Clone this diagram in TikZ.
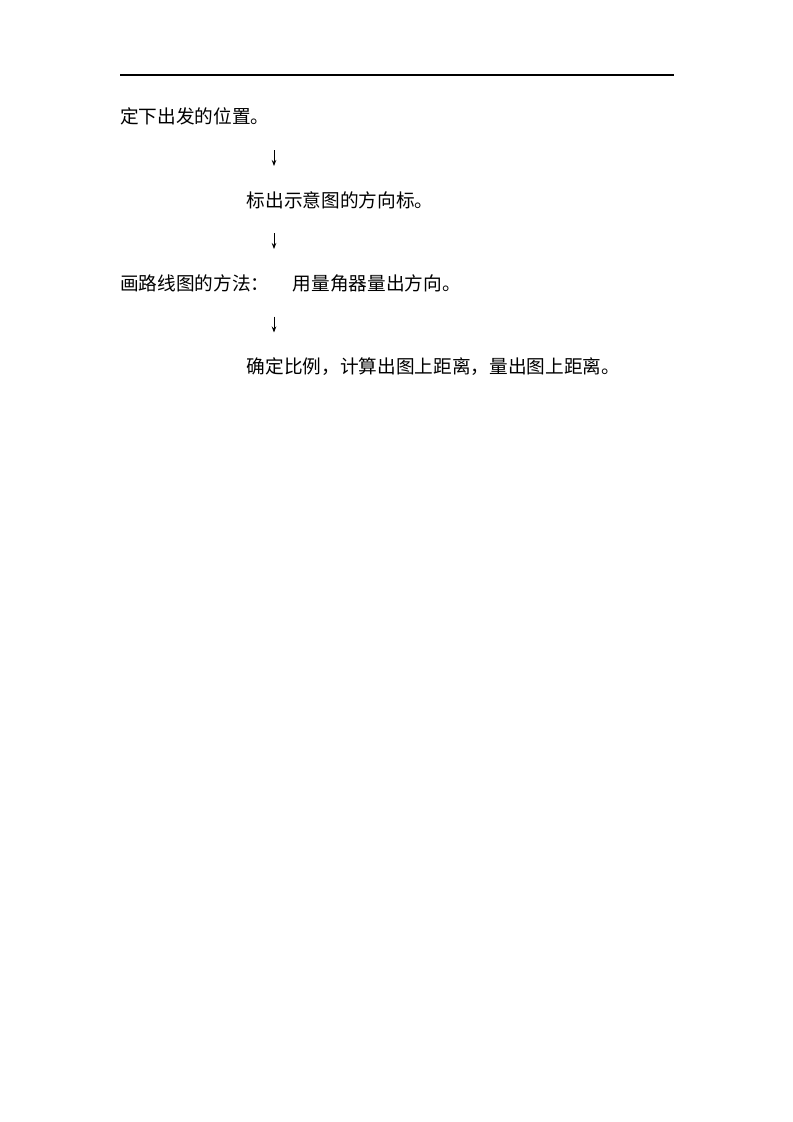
\documentclass[tikz,border=0pt]{standalone}
\usepackage{fontspec}
\newfontfamily\cjk{Noto Sans CJK SC}
\usetikzlibrary{arrows.meta}
\tikzset{
  steptext/.style={anchor=west,inner sep=0pt,font=\cjk\fontsize{14pt}{16pt}\selectfont},
  downarrow/.style={line width=0.6pt,-{Stealth[length=4.5pt,width=3.4pt]}}
}
\begin{document}
\begin{tikzpicture}[x=0.75pt,y=-0.75pt]
  \useasboundingbox (0,0) rectangle (793,1122);
  \draw[line width=0.8pt](120,75)--(674,75);
  \node[steptext] (start) at (120,116) {定下出发的位置。};
  \node[steptext] (mark) at (246.5,200) {标出示意图的方向标。};
  \node[steptext] (title) at (120,283.5) {画路线图的方法：};
  \node[steptext] (measure) at (292.5,283.5) {用量角器量出方向。};
  \node[steptext] (scale) at (246.5,366.5) {确定比例，计算出图上距离，量出图上距离。};
  \coordinate (top1) at (274,150);
  \coordinate (bot1) at (274,166);
  \coordinate (top2) at (274,233);
  \coordinate (bot2) at (274,249);
  \coordinate (top3) at (274,316.5);
  \coordinate (bot3) at (274,332.5);
  \draw[downarrow](top1)--(bot1);
  \draw[downarrow](top2)--(bot2);
  \draw[downarrow](top3)--(bot3);
\end{tikzpicture}
\end{document}
